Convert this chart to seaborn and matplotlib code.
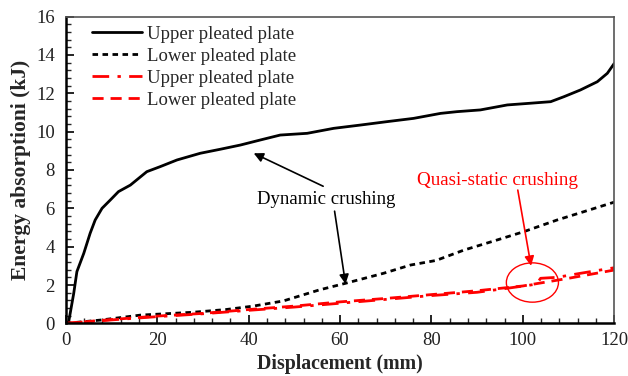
import matplotlib
matplotlib.use("Agg")
import matplotlib.pyplot as plt
from matplotlib.patches import Ellipse
from matplotlib.ticker import MultipleLocator
import seaborn as sns

# Dynamic crushing, upper pleated plate
upper_dyn_x = [0, 0.6, 1.7, 2.4, 3.9, 5.3, 6.4, 7.9, 9.7, 11.5, 14.1, 15.9, 17.7, 20.6,
               24.3, 29.4, 33.8, 38.2, 42.5, 46.9, 52.8, 58.6, 64.4, 70.3, 76.1, 82.0,
               85.6, 90.7, 96.6, 101.7, 106.1, 109.0, 112.6, 116.3, 118.5, 120.0]
upper_dyn_y = [0, 0.08, 1.56, 2.7, 3.65, 4.7, 5.39, 6.0, 6.43, 6.87, 7.21, 7.56, 7.91, 8.17,
               8.52, 8.87, 9.08, 9.3, 9.56, 9.82, 9.91, 10.17, 10.34, 10.52, 10.69, 10.95,
               11.04, 11.13, 11.39, 11.48, 11.56, 11.82, 12.17, 12.6, 13.04, 13.55]

# Dynamic crushing, lower pleated plate
lower_dyn_x = [0, 7.5, 16.3, 27.9, 35, 41, 47.6, 55.4, 61.2, 69.5, 75.4, 81, 87.1, 94.4,
               100.2, 107.5, 113.3, 120]
lower_dyn_y = [0, 0.17, 0.43, 0.58, 0.72, 0.9, 1.17, 1.74, 2.09, 2.61, 3.04, 3.28, 3.82,
               4.35, 4.78, 5.39, 5.82, 6.32]

# Quasi-static crushing, upper pleated plate
upper_qs_x = [0, 10, 20, 30, 40, 50, 60, 70, 80, 90, 96.6, 101.7, 103.0, 103.9, 107.5,
              112.6, 120]
upper_qs_y = [0, 0.18, 0.35, 0.5, 0.68, 0.85, 1.05, 1.25, 1.45, 1.62, 1.83, 2.0, 2.05,
              2.35, 2.4, 2.61, 2.9]

# Quasi-static crushing, lower pleated plate
lower_qs_x = [0, 10, 20, 30, 40, 50, 60, 70, 80, 90, 100, 110, 120]
lower_qs_y = [0, 0.2, 0.38, 0.52, 0.72, 0.9, 1.12, 1.3, 1.5, 1.7, 1.95, 2.35, 2.78]

series_label = "Upper pleated plate"
series_label_2 = "Lower pleated plate"

sns.set_style("ticks")
plt.rcParams["font.family"] = ["Liberation Serif", "DejaVu Serif"]

fig = plt.figure(figsize=(6.28, 3.76), dpi=100)
ax = fig.add_axes([0.105, 0.140, 0.873, 0.816])

sns.lineplot(x=upper_dyn_x, y=upper_dyn_y, ax=ax, color="black", lw=2.0,
             label=series_label, sort=False)
sns.lineplot(x=lower_dyn_x, y=lower_dyn_y, ax=ax, color="black", lw=2.0,
             label=series_label_2, sort=False)
ax.lines[-1].set_dashes([2.0, 1.6])
sns.lineplot(x=upper_qs_x, y=upper_qs_y, ax=ax, color="red", lw=2.0,
             label=series_label, sort=False)
ax.lines[-1].set_dashes([6, 3, 1.2, 3])
sns.lineplot(x=lower_qs_x, y=lower_qs_y, ax=ax, color="red", lw=2.0,
             label=series_label_2, sort=False)
ax.lines[-1].set_dashes([4, 2.5])

ax.set_xlim(0, 120)
ax.set_ylim(0, 16)
ax.xaxis.set_major_locator(MultipleLocator(20))
ax.xaxis.set_minor_locator(MultipleLocator(4))
ax.yaxis.set_major_locator(MultipleLocator(2))
ax.yaxis.set_minor_locator(MultipleLocator(0.4))
ax.tick_params(which="major", direction="in", length=6, width=1.2, labelsize=13.5,
               colors="black")
ax.tick_params(axis="y", which="major", pad=8)
ax.tick_params(axis="x", which="major", pad=6)
ax.tick_params(which="minor", direction="in", length=3.5, width=1.0)
ax.tick_params(axis="both", labelcolor="#222222")

for side in ("left", "bottom"):
    ax.spines[side].set_linewidth(1.8)
    ax.spines[side].set_color("black")
for side in ("top", "right"):
    ax.spines[side].set_linewidth(1.2)
    ax.spines[side].set_color("#555555")

ax.set_xlabel("Displacement (mm)", fontsize=14.3, fontweight="bold", labelpad=4)
ax.set_ylabel("Energy absorptioni (kJ)", fontsize=15.5, fontweight="bold", labelpad=4)

leg = ax.legend(loc="upper left", bbox_to_anchor=(0.03, 1.0), frameon=False,
                fontsize=13.5, handlelength=2.7, handletextpad=0.25,
                labelspacing=0.26, borderaxespad=0.1)

# Dynamic crushing annotation
ax.text(57.0, 6.45, "Dynamic crushing", fontsize=13.5, ha="center", va="center",
        color="black")
ax.annotate("", xy=(41.1, 8.87), xytext=(56.3, 7.15),
            arrowprops=dict(arrowstyle="-|>", color="black", lw=1.2,
                            mutation_scale=14, shrinkA=0, shrinkB=0))
ax.annotate("", xy=(61.2, 2.05), xytext=(58.8, 5.85),
            arrowprops=dict(arrowstyle="-|>", color="black", lw=1.2,
                            mutation_scale=14, shrinkA=0, shrinkB=0))

# Quasi-static crushing annotation
ax.text(94.5, 7.45, "Quasi-static crushing", fontsize=13.7, ha="center", va="center",
        color="red")
ax.annotate("", xy=(101.8, 3.0), xytext=(98.9, 6.95),
            arrowprops=dict(arrowstyle="-|>", color="red", lw=1.2,
                            mutation_scale=14, shrinkA=0, shrinkB=0))
ax.add_patch(Ellipse((102.1, 2.13), 11.4, 2.05, fill=False, edgecolor="red", lw=1.0))

fig.savefig("out.png", dpi=100)
